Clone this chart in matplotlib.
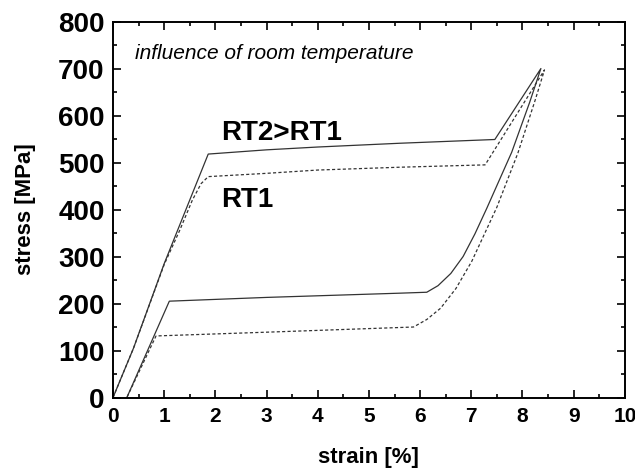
import matplotlib
matplotlib.use('Agg')
import matplotlib.pyplot as plt
from matplotlib.ticker import MultipleLocator

# ========== DATA ==========
# RT2 (solid): loading -> upper plateau -> peak -> unloading -> lower plateau -> zero
rt2_strain = [0, 0.40, 1.00, 1.86, 3.0, 4.0, 5.6, 7.46, 8.36,
              8.14, 7.79, 7.30, 7.07, 6.84, 6.60, 6.35, 6.13, 5.6, 3.0, 1.10, 0.27]
rt2_stress = [0, 105, 285, 518, 527, 533, 541, 549, 700,
              628, 522, 402, 348, 300, 264, 238, 224, 222, 213, 205, 0]

# RT1 (dashed)
rt1_strain = [0, 0.40, 1.00, 1.30, 1.55, 1.72, 1.86, 3.0, 4.0, 5.6, 7.27, 8.43,
              8.24, 7.91, 7.50, 7.01, 6.70, 6.40, 6.13, 5.87, 3.0, 0.84, 0.27]
rt1_stress = [0, 105, 283, 355, 420, 455, 470, 477, 484, 490, 495, 697,
              630, 520, 405, 290, 232, 190, 166, 150, 139, 131, 0]

plt.rcParams['font.family'] = ['Liberation Sans', 'DejaVu Sans']

fig = plt.figure(figsize=(6.35, 4.68), dpi=100)
ax = fig.add_axes([0.178, 0.1506, 0.806, 0.8034])

ax.plot(rt2_strain, rt2_stress, color='#333333', lw=0.9, ls='-')
ax.plot(rt1_strain, rt1_stress, color='#333333', lw=0.9, ls=(0, (2.5, 1.8)))

ax.set_xlim(0, 10)
ax.set_ylim(0, 800)
ax.xaxis.set_major_locator(MultipleLocator(1))
ax.xaxis.set_minor_locator(MultipleLocator(0.5))
ax.yaxis.set_major_locator(MultipleLocator(100))
ax.yaxis.set_minor_locator(MultipleLocator(50))
ax.tick_params(which='both', direction='in', top=True, right=True, width=1.2)
ax.tick_params(which='major', length=6)
ax.tick_params(which='minor', length=3)
ax.tick_params(axis='x', labelsize=15, pad=7)
ax.tick_params(axis='y', labelsize=20, pad=6)
for lab in ax.get_xticklabels() + ax.get_yticklabels():
    lab.set_fontweight('bold')
for sp in ax.spines.values():
    sp.set_linewidth(1.4)

ax.set_xlabel('strain [%]', fontsize=16, fontweight='bold', labelpad=15)
ax.set_ylabel('stress [MPa]', fontsize=16, fontweight='bold', labelpad=16)

ax.text(0.43, 733, 'influence of room temperature', fontsize=15, style='italic',
        va='center', ha='left')
ax.text(2.11, 563, 'RT2>RT1', fontsize=20, fontweight='bold', va='center', ha='left')
ax.text(2.11, 420, 'RT1', fontsize=20, fontweight='bold', va='center', ha='left')

fig.savefig('out.png', dpi=100)
